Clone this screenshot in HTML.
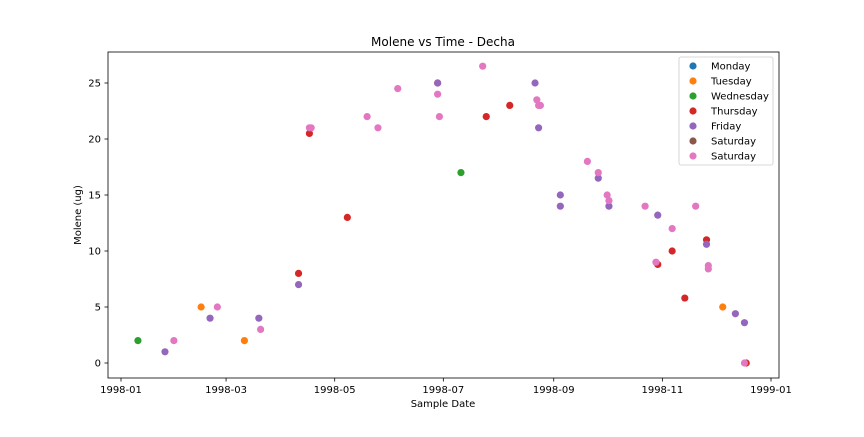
<!DOCTYPE html>
<html><head><meta charset="utf-8"><style>
body{margin:0;background:#fff;font-family:"Liberation Sans","DejaVu Sans",sans-serif}
svg text{font-family:"DejaVu Sans","Liberation Sans",sans-serif;fill:#000}
</style></head><body>
<svg id="chart" width="864" height="432" xmlns="http://www.w3.org/2000/svg">
<rect width="864" height="432" fill="#fff"/>
<text x="443" y="46" font-size="12" text-anchor="middle">Molene vs Time - Decha</text>
<g id="axes"></g>
<g id="marks"></g>
<rect x="108" y="52" width="671" height="326" fill="none" stroke="#000" stroke-width="0.8"/>
<text x="443" y="407" font-size="10" text-anchor="middle">Sample Date</text>
<text transform="translate(81,215) rotate(-90)" font-size="10" text-anchor="middle">Molene (ug)</text>
<g id="legend"></g>
</svg>
<script>
const xTickLabels=["1998-01","1998-03","1998-05","1998-07","1998-09","1998-11","1999-01"];
const xTickDays=[0,59,120,181,243,304,365];
const yTicks=[0,5,10,15,20,25];
const seriesNames=["Monday","Tuesday","Wednesday","Thursday","Friday","Saturday","Saturday"];
const seriesColors=["#1f77b4","#ff7f0e","#2ca02c","#d62728","#9467bd","#8c564b","#e377c2"];
const mondayDays=[],mondayVals=[];
const tuesdayDays=[45,69.3,337.9],tuesdayVals=[5,2,5];
const wednesdayDays=[9.5,190.9],wednesdayVals=[2,17];
const thursdayDays=[177.8,105.8,127.1,99.7,205.1,218.3,301.4,309.5,316.6,328.8,351.1],thursdayVals=[25,20.5,13,8,22,23,8.8,10,5.8,11,0];
const fridayDays=[24.7,50,77.4,99.7,177.8,232.5,234.5,246.7,246.7,268,274,301.4,328.8,345,350.1],fridayVals=[1,4,4,7,25,25,21,15,14,16.5,14,13.2,10.6,4.4,3.6];
const saturday1Days=[],saturday1Vals=[];
const saturday2Days=[29.7,54.1,78.4,105.8,106.8,138.2,144.3,155.4,177.8,178.8,203.1,233.5,234.5,235.5,261.9,268,273,274,294.3,300.4,309.5,322.7,329.8,329.8,350.1],saturday2Vals=[2,5,3,21,21,22,21,24.5,24,22,26.5,23.5,23,23,18,17,15,14.5,14,9,12,14,8.7,8.4,0];
const seriesDays=[mondayDays,tuesdayDays,wednesdayDays,thursdayDays,fridayDays,saturday1Days,saturday2Days];
const seriesVals=[mondayVals,tuesdayVals,wednesdayVals,thursdayVals,fridayVals,saturday1Vals,saturday2Vals];
const NS="http://www.w3.org/2000/svg";
const xS=d=>121+d*(650/365);
const yS=v=>363-v*11.2;
function mk(t,a,p){const e=document.createElementNS(NS,t);for(const k in a)e.setAttribute(k,a[k]);p.appendChild(e);return e;}
const ax=document.getElementById('axes');
xTickDays.forEach((d,i)=>{
 const l=mk('line',{x1:xS(d),x2:xS(d),y1:378,y2:381.5,stroke:'#000','stroke-width':0.8},ax);
 
 
 const t=mk('text',{x:xS(d),y:393,'font-size':10,'text-anchor':'middle'},ax);t.textContent=xTickLabels[i];
 
 
});
yTicks.forEach(v=>{
 const l=mk('line',{x1:104.5,x2:108,y1:yS(v),y2:yS(v),stroke:'#000','stroke-width':0.8},ax);
 
 
 const t=mk('text',{x:101,y:yS(v)+3.5,'font-size':10,'text-anchor':'end'},ax);t.textContent=v;
 
 
});
const mg=document.getElementById('marks');
seriesDays.forEach((ds,s)=>{ds.forEach((d,i)=>{
 const c=mk('circle',{cx:xS(d),cy:yS(seriesVals[s][i]),r:3.6,fill:seriesColors[s]},mg);
 
 
});});
const lg=document.getElementById('legend');
mk('rect',{x:679,y:57,width:94,height:108,rx:2,fill:'#fff',stroke:'#ccc','stroke-width':0.8},lg);
seriesNames.forEach((n,i)=>{
 const y=66+i*15;
 const c=mk('circle',{cx:693,cy:y,r:3.6,fill:seriesColors[i]},lg);
 
 
 const t=mk('text',{x:711,y:y+3.5,'font-size':10},lg);t.textContent=n;
 
 
});
</script>
</body></html>
